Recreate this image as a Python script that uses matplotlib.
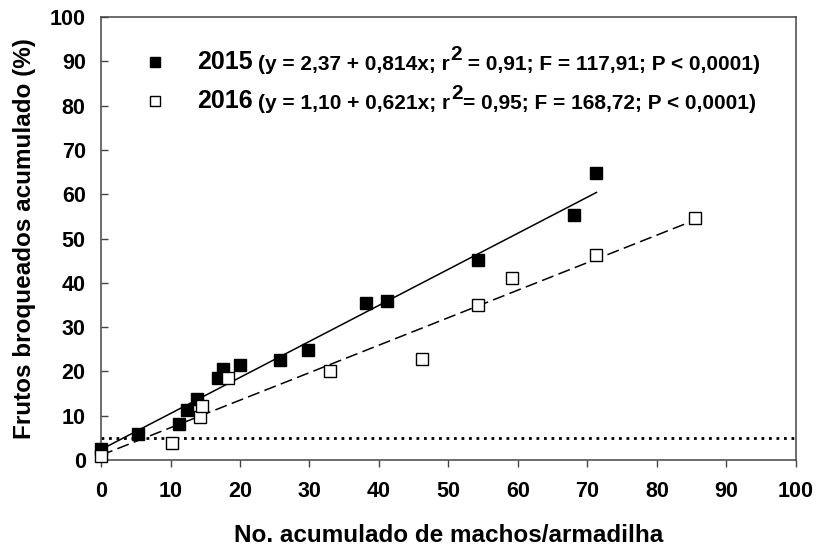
import numpy as np
import matplotlib.pyplot as plt

plt.rcParams['font.family'] = ['Liberation Sans', 'DejaVu Sans']
plt.rcParams['font.weight'] = 'bold'

# 2015 data (filled squares)
x2015 = np.array([0.0, 5.3, 11.2, 12.4, 13.8, 16.9, 17.6, 20.0, 25.8, 29.8,
                  38.1, 41.2, 54.3, 68.1, 71.3])
y2015 = np.array([2.5, 5.9, 8.2, 11.3, 13.8, 18.6, 20.6, 21.5, 22.5, 24.9,
                  35.5, 36.0, 45.2, 55.4, 64.7])

# 2016 data (open squares)
x2016 = np.array([0.0, 10.2, 14.2, 14.6, 18.3, 32.9, 46.2, 54.3, 59.1, 71.3, 85.5])
y2016 = np.array([1.0, 3.9, 9.8, 12.1, 18.6, 20.0, 22.9, 35.1, 41.2, 46.2, 54.7])

# fitted equations
a2015, b2015 = 2.37, 0.814
a2016, b2016 = 1.10, 0.621
threshold = 5

label_2015 = ("(y = 2,37 + 0,814x; r", "2", " = 0,91; F = 117,91; P < 0,0001)")
label_2016 = ("(y = 1,10 + 0,621x; r", "2", "= 0,95; F = 168,72; P < 0,0001)")

fig = plt.figure(figsize=(8.18, 5.49), dpi=100)
ax = fig.add_axes([0.1235, 0.162, 0.8495, 0.807])

ax.axhline(threshold, color='black', linestyle=(0, (1, 1.7)), linewidth=2)

t1 = np.linspace(0, x2015.max(), 50)
ax.plot(t1, a2015 + b2015 * t1, color='black', linewidth=1.1)
t2 = np.linspace(0, x2016.max(), 50)
ax.plot(t2, a2016 + b2016 * t2, color='black', linewidth=1.1, dashes=(8, 3.5))

ax.plot(x2015, y2015, 's', color='black', markersize=9, zorder=3, clip_on=False)
ax.plot(x2016, y2016, 's', markerfacecolor='white', markeredgecolor='black',
        markeredgewidth=1, markersize=9, zorder=3, clip_on=False)

ax.set_xlim(0, 100)
ax.set_ylim(0, 100)
ax.set_xticks(range(0, 101, 10))
ax.set_yticks(range(0, 101, 10))
ax.tick_params(axis='x', direction='out', length=5, width=1, labelsize=15.5,
               colors='black', pad=10)
ax.tick_params(axis='y', direction='in', length=5, width=1, labelsize=15.5,
               colors='black', pad=11)
ax.tick_params(colors='#444444', labelcolor='black')
for s in ax.spines.values():
    s.set_color('#444444')
    s.set_linewidth(1.1)
for lab in ax.get_xticklabels() + ax.get_yticklabels():
    lab.set_fontweight('bold')

ax.set_xlabel("No. acumulado de machos/armadilha", fontsize=17.5, fontweight='bold', labelpad=16)
ax.set_ylabel("Frutos broqueados acumulado (%)", fontsize=17.5, fontweight='bold', labelpad=10)

# legend drawn by hand
def legend_row(y, year, parts, filled):
    ax.plot([0.077], [y], 's', transform=ax.transAxes, markersize=7.5,
            markerfacecolor='black' if filled else 'white',
            markeredgecolor='black', markeredgewidth=1, clip_on=False)
    t = ax.text(0.138, y, year, transform=ax.transAxes, fontsize=18,
                fontweight='bold', va='center', ha='left')
    a = ax.annotate(parts[0], xy=(1, 0), xycoords=t, xytext=(4, 0),
                    textcoords='offset points', fontsize=15, fontweight='bold',
                    va='bottom', ha='left')
    b = ax.annotate(parts[1], xy=(1, 0), xycoords=a, xytext=(0.5, 7),
                    textcoords='offset points', fontsize=15, fontweight='bold',
                    va='bottom', ha='left')
    ax.annotate(parts[2], xy=(1, 0), xycoords=b, xytext=(0, -7),
                textcoords='offset points', fontsize=15, fontweight='bold',
                va='bottom', ha='left')

legend_row(0.898, "2015", label_2015, True)
legend_row(0.811, "2016", label_2016, False)

fig.savefig("out.png", dpi=100)
